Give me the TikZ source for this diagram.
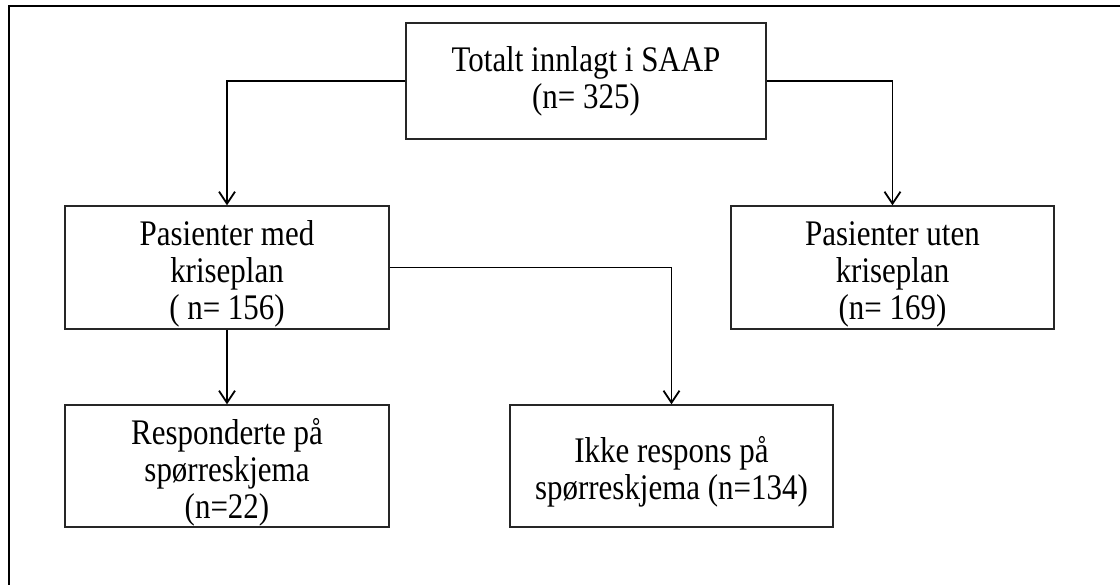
\documentclass[tikz,border=0pt]{standalone}
\usepackage{fontspec}
\setmainfont[FakeStretch=0.86]{Liberation Serif}
\usetikzlibrary{arrows.meta}
\newcommand{\nedstrut}{\rule{0pt}{19pt}}

\begin{document}
\begin{tikzpicture}[x=0.5pt,y=-0.5pt,
			boks/.style={draw=black!85, line width=0.7pt, fill=white, align=center, inner sep=0pt, font=\fontsize{18pt}{18.5pt}\selectfont},
			pil/.style={line width=0.9pt, -{Straight Barb[length=6pt,width=8pt]}}]
			\useasboundingbox (0,0) rectangle (1120,585);
			%---------------- RAMME ----------------
			\draw[line width=1pt] (1120,6)--(9,6)--(9,585);
			%---------------- BOKSER ----------------
			\node[boks, minimum width=180pt, minimum height=58pt] (total) at (586,81) {Totalt innlagt i SAAP\\(n= 325)};
			\node[boks, minimum width=162pt, minimum height=61.5pt] (med) at (227,267.5) {\nedstrut Pasienter med\\kriseplan\\( n= 156)};
			\node[boks, minimum width=161.5pt, minimum height=61.5pt] (uten) at (892.5,267.5) {\nedstrut Pasienter uten\\kriseplan\\(n= 169)};
			\node[boks, minimum width=162pt, minimum height=61pt] (resp) at (227,466) {\nedstrut Responderte på\\spørreskjema\\(n=22)};
			\node[boks, minimum width=161.5pt, minimum height=61pt] (ikke) at (671.5,466) {\nedstrut Ikke respons på\\spørreskjema (n=134)};
			%---------------- PILER ----------------
			\draw[pil] (total.west) -| (med.north);
			\draw[pil] (total.east) -| (uten.north);
			\draw[pil] (med.south) -- (resp.north);
			\draw[pil] (med.east) -| (ikke.north);
		\end{tikzpicture}
\end{document}
